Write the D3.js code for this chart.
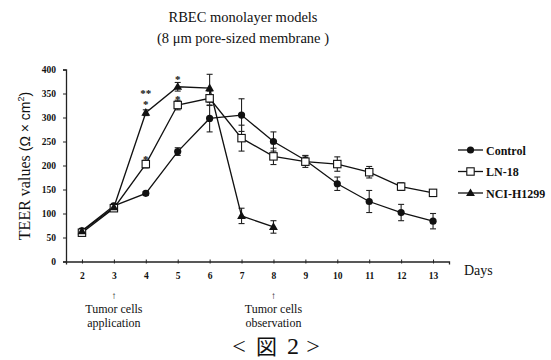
<!DOCTYPE html>
<html><head><meta charset="utf-8">
<script src="https://cdn.jsdelivr.net/npm/d3@7"></script>
<style>
html,body{margin:0;padding:0;background:#fff;}
svg{display:block;}
text{fill:#111;}
.serif{font-family:"Liberation Serif","Times New Roman","DejaVu Serif",serif;}
.sans{font-family:"Liberation Sans",Arial,"DejaVu Sans",sans-serif;}
</style></head>
<body>
<svg id="c" width="551" height="360"></svg>
<script>
// ---- data ----
const days = [2,3,4,5,6,7,8,9,10,11,12,13];
const controlVals = [64,116,142,229,298,305,250,211,162,125,102,84];
const controlErr  = [5,5,4,8,28,34,20,10,14,23,17,16];
const ln18Vals    = [60,111,203,326,340,257,219,208,203,186,156,143];
const ln18Err     = [5,5,8,10,15,27,17,12,15,12,8,5];
const nciDays     = [2,3,4,5,6,7,8];
const nciVals     = [63,113,310,364,361,95,72];
const nciErr      = [5,5,6,9,29,16,13];
const yTicks = [0,50,100,150,200,250,300,350,400];
const seriesNames = ["Control","LN-18","NCI-H1299"];
const stars = [
  {day:4, value:310, text:"**", dy:-16},
  {day:4, value:310, text:"*",  dy:-4.5},
  {day:4, value:203, text:"*",  dy:-1.5},
  {day:5, value:364, text:"*",  dy:-4},
  {day:5, value:326, text:"*",  dy:-2.5}
];

const svg = d3.select("#c");
const x = d3.scaleLinear().domain([1.5,13.5]).range([66,449]);
const y = d3.scaleLinear().domain([0,400]).range([261.5,69.5]);

// title
svg.append("text").attr("class","serif").attr("x",243).attr("y",22).attr("text-anchor","middle")
  .style("font-size","14.5px").text("RBEC monolayer  models");
svg.append("text").attr("class","serif").attr("x",243).attr("y",43).attr("text-anchor","middle")
  .style("font-size","14.5px").text("(8 \u03bcm pore-sized membrane  )");

// axes
const yAxis = d3.axisLeft(y).tickValues(yTicks).tickSize(3).tickPadding(7);
const gy = svg.append("g").attr("transform","translate(66,0)").call(yAxis);
const xAxis = d3.axisBottom(x).tickValues(days).tickSize(3).tickPadding(8).tickFormat(d3.format("d"));
const gx = svg.append("g").attr("transform","translate(0,261.5)").call(xAxis);
[gx,gy].forEach(g=>{
  g.attr("font-family",null);
  g.select(".domain").attr("stroke","#222").attr("stroke-width",1.3);
  g.selectAll(".tick line").attr("stroke","#222").attr("stroke-width",1);
  g.selectAll(".tick text").attr("class","serif").style("font-size","9.5px")
    .style("font-weight","bold").attr("fill","#222");
});
gx.selectAll(".tick line").attr("y1",-2).attr("y2",2);

// y label
const yl = svg.append("text").attr("transform","translate(30,166) rotate(-90)")
  .attr("text-anchor","middle");
yl.append("tspan").attr("class","serif").style("font-size","16px").text("TEER values ");
yl.append("tspan").attr("class","sans").style("font-size","14px").text("(\u03a9 \u00d7 cm");
yl.append("tspan").attr("class","sans").style("font-size","9px").attr("dy",-6).text("2");
yl.append("tspan").attr("class","sans").style("font-size","14px").attr("dy",6).text(")");

// Days label
svg.append("text").attr("class","serif").attr("x",464).attr("y",275)
  .style("font-size","14px").text("Days");

// series
const series = [
  {name:seriesNames[0], d:days, v:controlVals, e:controlErr, m:"circle"},
  {name:seriesNames[1], d:days, v:ln18Vals, e:ln18Err, m:"square"},
  {name:seriesNames[2], d:nciDays, v:nciVals, e:nciErr, m:"triangle"}
];
const line = d3.line().x(p=>x(p[0])).y(p=>y(p[1]));
function marker(g, m, cx, cy){
  if(m==="circle") g.append("circle").attr("cx",cx).attr("cy",cy).attr("r",3.6).attr("fill","#111");
  else if(m==="square") g.append("rect").attr("x",cx-3.7).attr("y",cy-3.7).attr("width",7.4).attr("height",7.4)
    .attr("fill","#fff").attr("stroke","#111").attr("stroke-width",1.1);
  else g.append("path").attr("d",d3.symbol(d3.symbolTriangle,34)()).attr("transform",`translate(${cx},${cy+0.5})`).attr("fill","#111");
}
// error bars first
series.forEach(s=>{
  const g = svg.append("g").attr("stroke","#222").attr("stroke-width",1.1);
  s.d.forEach((d,i)=>{
    const cx=x(d), t=y(s.v[i]+s.e[i]), b=y(s.v[i]-s.e[i]);
    g.append("line").attr("x1",cx).attr("x2",cx).attr("y1",t).attr("y2",b);
    g.append("line").attr("x1",cx-3).attr("x2",cx+3).attr("y1",t).attr("y2",t);
    g.append("line").attr("x1",cx-3).attr("x2",cx+3).attr("y1",b).attr("y2",b);
  });
});
series.forEach(s=>{
  svg.append("path").datum(s.d.map((d,i)=>[d,s.v[i]])).attr("d",line)
    .attr("fill","none").attr("stroke","#111").attr("stroke-width",1.3);
});
series.forEach(s=>{
  const g = svg.append("g");
  s.d.forEach((d,i)=>marker(g,s.m,x(d),y(s.v[i])));
});

// stars
stars.forEach(st=>{
  svg.append("text").attr("class","serif").attr("x",x(st.day)).attr("y",y(st.value)+st.dy).attr("text-anchor","middle")
    .attr("fill","#111").style("fill","#111").style("font-size","11px").style("font-weight","bold").text(st.text);
});

// legend
series.forEach((s,i)=>{
  const ly = 150 + i*21.5;
  svg.append("line").attr("x1",458).attr("x2",483).attr("y1",ly).attr("y2",ly).attr("stroke","#111").attr("stroke-width",1.3);
  marker(svg.append("g"), s.m, 470.5, ly);
  svg.append("text").attr("class","serif").attr("x",486).attr("y",ly+4.5)
    .style("font-size","12px").style("font-weight","bold").text(s.name);
});

// annotations below axis
const notes = [{day:3, l1:"Tumor  cells", l2:"application"},{day:8, l1:"Tumor  cells", l2:"observation"}];
notes.forEach(n=>{
  const cx = x(n.day);
  svg.append("text").attr("class","serif").attr("x",cx).attr("y",298.5).attr("text-anchor","middle")
    .style("font-size","10px").text("\u2191");
  svg.append("text").attr("class","serif").attr("x",cx).attr("y",312.5).attr("text-anchor","middle")
    .style("font-size","12px").text(n.l1);
  svg.append("text").attr("class","serif").attr("x",cx).attr("y",326.5).attr("text-anchor","middle")
    .style("font-size","12px").text(n.l2);
});

// figure caption
const cap = svg.append("text").attr("y",353.5).attr("text-anchor","middle");
cap.append("tspan").attr("class","serif").attr("x",239).style("font-size","24px").text("<");
cap.append("tspan").attr("x",266.5).style("font-family","\"Noto Sans CJK JP\",sans-serif")
  .style("font-size","21px").style("font-weight","400").text("\u56f3");
cap.append("tspan").attr("class","serif").attr("x",293).style("font-size","24px").text("2");
cap.append("tspan").attr("class","serif").attr("x",313).style("font-size","24px").text(">");
</script>
</body></html>
